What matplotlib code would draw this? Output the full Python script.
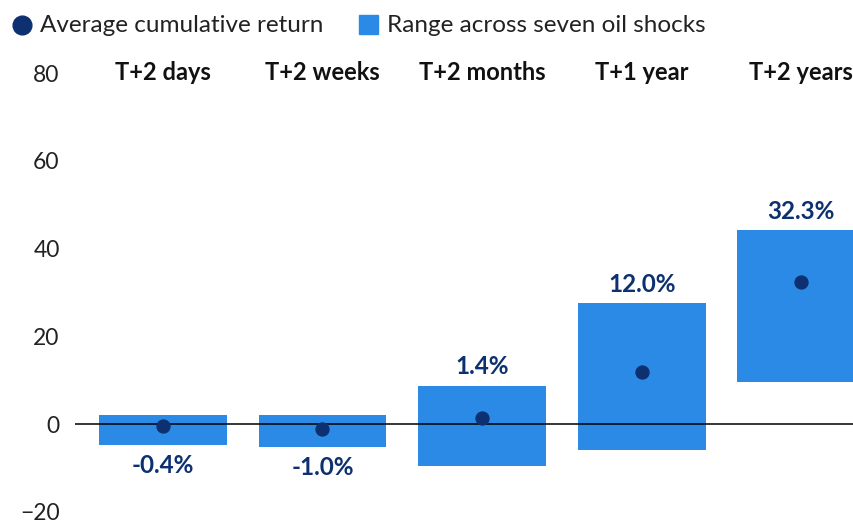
import matplotlib.pyplot as plt
import numpy as np
from matplotlib.lines import Line2D
from matplotlib.patches import Rectangle

plt.rcParams['font.family'] = ['Lato', 'DejaVu Sans']

periods = ['T+2 days', 'T+2 weeks', 'T+2 months', 'T+1 year', 'T+2 years']
range_low = [-4.8, -5.2, -9.6, -5.9, 9.6]
range_high = [2.0, 2.2, 8.8, 27.5, 44.2]
avg_return = [-0.4, -1.0, 1.4, 12.0, 32.3]

bar_color = '#2b8ae6'
dot_color = '#0d3170'

fig = plt.figure(figsize=(8.54, 5.25), dpi=100)
ax = fig.add_axes([75 / 854, 13 / 525, 779 / 854, 439 / 525])

x = np.arange(len(periods))
low = np.array(range_low)
high = np.array(range_high)
ax.bar(x, high - low, bottom=low, width=0.8, color=bar_color, zorder=2)
ax.axhline(0, color='black', lw=1.1, zorder=3)
ax.plot(x, avg_return, 'o', color=dot_color, ms=9.3, zorder=4)

for i, v in enumerate(avg_return):
    if v < 0:
        ax.annotate(f'{v:.1f}%', (x[i], low[i]), xytext=(0, -20), textcoords='offset pixels',
                    ha='center', va='center', fontsize=17.5, fontweight='bold', color=dot_color)
    else:
        ax.annotate(f'{v:.1f}%', (x[i], high[i]), xytext=(0, 19), textcoords='offset pixels',
                    ha='center', va='center', fontsize=17.5, fontweight='bold', color=dot_color)
    ax.text(x[i], 80, periods[i], ha='center', va='center', fontsize=17,
            fontweight='bold', color='#111111')

ax.set_xlim(-0.55, 4.33)
ax.set_ylim(-20, 80)
ax.set_yticks([-20, 0, 20, 40, 60, 80])
ax.set_yticklabels(['\u221220', '0', '20', '40', '60', '80'])
ax.tick_params(axis='y', length=0, pad=11, labelsize=16.5, labelcolor='#222222')
ax.set_xticks([])
for s in ax.spines.values():
    s.set_visible(False)

# legend row
fig.lines.append(Line2D([22 / 854], [1 - 25 / 525], marker='o', ms=13.5, color=dot_color,
                        transform=fig.transFigure))
fig.text(40 / 854, 1 - 25 / 525, 'Average cumulative return', ha='left', va='center',
         fontsize=17.5, color='#222222')
fig.patches.append(Rectangle((359 / 854, 1 - 34 / 525), 19 / 854, 19 / 525,
                             color=bar_color, transform=fig.transFigure))
fig.text(387 / 854, 1 - 25 / 525, 'Range across seven oil shocks', ha='left', va='center',
         fontsize=17.5, color='#222222')

fig.savefig('out.png', dpi=100)
